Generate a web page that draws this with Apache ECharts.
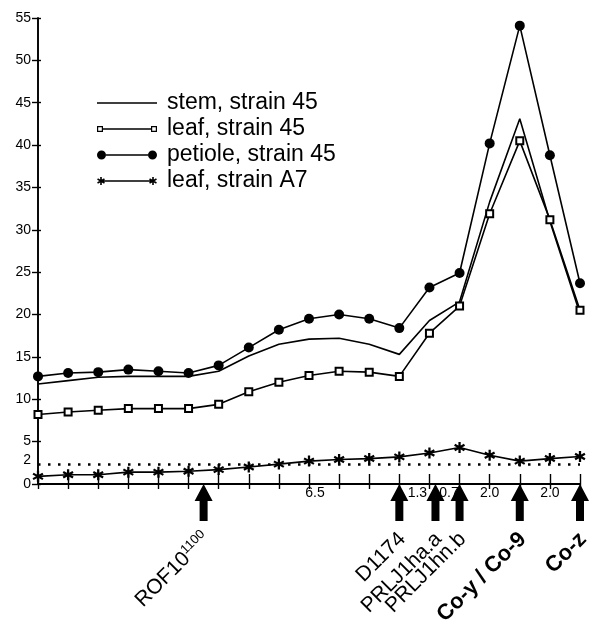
<!DOCTYPE html>
<html lang="en">
<head>
    <meta charset="UTF-8">
    <title>ECharts - resistance markers</title>
    <script src="https://cdn.jsdelivr.net/npm/echarts@6/dist/echarts.min.js"></script>
    <style>
        html, body { margin: 0; padding: 0; background: #fff; }
        #main { width: 589px; height: 621px; }
    </style>
</head>
<body>
<div id="main"></div>
<script type="text/javascript">
    // positions along the map (one per sampled point)
    var positions = [0, 1, 2, 3, 4, 5, 6, 7, 8, 9, 10, 11, 12, 13, 14, 15, 16, 17, 18];

    // series values
    var stem45    = [11.8, 12.2, 12.6, 12.7, 12.7, 12.7, 13.3, 15.1, 16.5, 17.1, 17.2, 16.5, 15.3, 19.3, 21.5, 33.3, 43.1, 31.0, 20.1];
    var leaf45    = [8.2, 8.5, 8.7, 8.9, 8.9, 8.9, 9.4, 10.9, 12.0, 12.8, 13.3, 13.2, 12.7, 17.8, 21.0, 31.9, 40.5, 31.2, 20.5];
    var petiole45 = [12.7, 13.1, 13.2, 13.5, 13.3, 13.1, 14.0, 16.1, 18.2, 19.5, 20.0, 19.5, 18.4, 23.2, 24.9, 40.2, 54.1, 38.8, 23.7];
    var leafA7    = [0.9, 1.1, 1.1, 1.4, 1.4, 1.5, 1.7, 2.0, 2.35, 2.7, 2.9, 3.0, 3.2, 3.65, 4.3, 3.4, 2.7, 3.0, 3.25];
    var threshold = 2.3;

    // y tick labels ("2" is written a little above the dotted line)
    var yLabelValues = [0, 2.8, 5, 10, 15, 20, 25, 30, 35, 40, 45, 50, 55];
    var yLabelTexts  = ['0', '2', '5', '10', '15', '20', '25', '30', '35', '40', '45', '50', '55'];

    // distances between markers
    var distPos    = [9.2, 12.6, 13.65, 15, 17];
    var distLabels = ['6.5', '1.3', '0.7', '2.0', '2.0'];

    // markers (arrows under the axis)
    var markerPos   = [5.5, 12, 13.2, 14, 16, 18];
    var markerNames = ['{n|ROF10}{s|1100}', '{n|D1174}', '{n|PRLJ1ha.a}', '{n|PRLJ1hn.b}', '{b|Co-y / Co-9}', '{b|Co-z}'];

    var FONT = '"Liberation Sans", Arial, Helvetica, sans-serif';

    function pairs(values) {
        return positions.map(function (p, i) { return [p, values[i]]; });
    }

    // asterisk made of three thin bars, all wound the same way
    function starPath(ox, oy, s, w) {
        var c = s / 2, t = s * w;
        var dx = c * 0.866, dy = c * 0.5, nx = t * 0.5, ny = t * 0.866;
        function P(x, y) { return (ox + x).toFixed(2) + ' ' + (oy + y).toFixed(2); }
        return 'M' + P(c - t, 0) + 'L' + P(c + t, 0) + 'L' + P(c + t, s) + 'L' + P(c - t, s) + 'Z' +
            'M' + P(c - dx + nx, c - dy - ny) + 'L' + P(c + dx + nx, c + dy - ny) + 'L' + P(c + dx - nx, c + dy + ny) + 'L' + P(c - dx - nx, c - dy + ny) + 'Z' +
            'M' + P(c - dx - nx, c + dy - ny) + 'L' + P(c + dx - nx, c - dy - ny) + 'L' + P(c + dx + nx, c - dy + ny) + 'L' + P(c - dx + nx, c + dy + ny) + 'Z';
    }

    var BOX = 'M0 0L0 0ZM60 10L60 10Z';
    var iconStem = 'path://' + BOX + 'M0 4.3L60 4.3L60 5.7L0 5.7Z';
    var iconLeaf = 'path://' + BOX +
        'M0 2L6 2L6 8L0 8ZM1.2 3.2L1.2 6.8L4.8 6.8L4.8 3.2Z' +
        'M54 2L60 2L60 8L54 8ZM55.2 3.2L55.2 6.8L58.8 6.8L58.8 3.2Z' +
        'M6 4.3L54 4.3L54 5.7L6 5.7Z';
    var iconPetiole = 'path://' + BOX +
        'M0 5A4.5 4.5 0 1 0 9 5A4.5 4.5 0 1 0 0 5Z' +
        'M51 5A4.5 4.5 0 1 0 60 5A4.5 4.5 0 1 0 51 5Z' +
        'M9 4.3L51 4.3L51 5.7L9 5.7Z';
    var iconStar = 'path://' + BOX + starPath(0, 1, 8, 0.1) + starPath(52, 1, 8, 0.1) + 'M4 4.3L56 4.3L56 5.7L4 5.7Z';
    var starSymbol = 'path://' + starPath(0, 0, 10, 0.1);

    function renderMarker(params, api) {
        var k = api.value(2);
        var tip = api.coord([api.value(0), 0]);
        var x = tip[0], y = tip[1];
        return {
            type: 'group',
            children: [{
                type: 'polygon',
                shape: {points: [[x, y], [x + 9, y + 17], [x + 4, y + 17], [x + 4, y + 37], [x - 4, y + 37], [x - 4, y + 17], [x - 9, y + 17]]},
                style: {fill: '#000'}
            }, {
                type: 'text',
                x: x + 3,
                y: y + 52,
                rotation: Math.PI / 4,
                style: {
                    text: markerNames[k],
                    align: 'right',
                    verticalAlign: 'middle',
                    fill: '#000',
                    rich: {
                        n: {fontFamily: FONT, fontSize: 21, lineHeight: 22},
                        b: {fontFamily: FONT, fontSize: 22, fontWeight: 'bold', lineHeight: 22},
                        s: {fontFamily: FONT, fontSize: 13, verticalAlign: 'top', padding: [0, 0, 11, 0]}
                    }
                }
            }]
        };
    }

    var myChart = echarts.init(document.getElementById('main'), null, {renderer: 'canvas'});

    var lineStyle = {color: '#000', width: 1.6};
    var axisLine = {show: true, lineStyle: {color: '#000', width: 1.6}};

    var option = {
        animation: false,
        backgroundColor: '#fff',
        grid: {left: 38, right: 9, top: 18, bottom: 137},
        legend: {
            orient: 'vertical',
            left: 97,
            top: 90,
            padding: 0,
            itemGap: 0,
            itemWidth: 60,
            itemHeight: 10,
            itemStyle: {borderWidth: 0},
            textStyle: {fontFamily: FONT, fontSize: 23, lineHeight: 26, color: '#000', padding: [0, 0, 0, 5]},
            data: [
                {name: 'stem, strain 45', icon: iconStem},
                {name: 'leaf, strain 45', icon: iconLeaf},
                {name: 'petiole, strain 45', icon: iconPetiole},
                {name: 'leaf, strain A7', icon: iconStar}
            ]
        },
        xAxis: [{
            type: 'value',
            min: 0,
            max: 18,
            interval: 1,
            position: 'bottom',
            axisLine: {show: true, lineStyle: {color: '#000', width: 2}},
            axisTick: {show: true, inside: true, length: 10, lineStyle: {color: '#000', width: 1.4}},
            splitLine: {show: false},
            axisLabel: {
                customValues: distPos,
                margin: 2,
                fontFamily: FONT,
                fontSize: 14,
                color: '#000',
                formatter: function (v) {
                    var k = distPos.indexOf(v);
                    return k < 0 ? '' : distLabels[k];
                }
            }
        }, {
            type: 'value',
            min: 0,
            max: 18,
            interval: 1,
            position: 'top',
            axisLine: axisLine,
            axisTick: {show: true, inside: true, length: 5, lineStyle: {color: '#000', width: 1.4}},
            splitLine: {show: false},
            axisLabel: {show: false}
        }],
        yAxis: [{
            type: 'value',
            min: 0,
            max: 55,
            interval: 5,
            position: 'left',
            axisLine: axisLine,
            axisTick: {show: true, inside: true, length: 3, lineStyle: {color: '#000', width: 1.4}},
            splitLine: {show: false},
            axisLabel: {
                customValues: yLabelValues,
                margin: 7,
                fontFamily: FONT,
                fontSize: 14,
                color: '#000',
                formatter: function (v) {
                    var k = yLabelValues.indexOf(v);
                    return k < 0 ? '' : yLabelTexts[k];
                }
            }
        }, {
            type: 'value',
            min: 0,
            max: 55,
            interval: 5,
            position: 'right',
            axisLine: axisLine,
            axisTick: {show: true, inside: true, length: 6, lineStyle: {color: '#000', width: 1.4}},
            splitLine: {show: false},
            axisLabel: {show: false}
        }],
        series: [{
            name: 'stem, strain 45',
            type: 'line',
            data: pairs(stem45),
            symbol: 'none',
            color: '#000',
            lineStyle: lineStyle
        }, {
            name: 'leaf, strain 45',
            type: 'line',
            data: pairs(leaf45),
            symbol: 'emptyRect',
            symbolSize: 7,
            color: '#000',
            itemStyle: {borderWidth: 1.2},
            lineStyle: lineStyle
        }, {
            name: 'petiole, strain 45',
            type: 'line',
            data: pairs(petiole45),
            symbol: 'circle',
            symbolSize: 10,
            color: '#000',
            lineStyle: lineStyle
        }, {
            name: 'leaf, strain A7',
            type: 'line',
            data: pairs(leafA7),
            symbol: starSymbol,
            symbolSize: 11,
            color: '#000',
            lineStyle: lineStyle,
            markLine: {
                silent: true,
                symbol: 'none',
                label: {show: false},
                lineStyle: {color: '#000', type: [2.5, 7.5], width: 2.5},
                data: [{yAxis: threshold}]
            }
        }, {
            name: 'markers',
            type: 'custom',
            clip: false,
            silent: true,
            renderItem: renderMarker,
            encode: {x: 0, y: 1},
            data: markerPos.map(function (p, i) { return [p, 0, i]; })
        }]
    };

    myChart.setOption(option);
</script>
</body>
</html>
